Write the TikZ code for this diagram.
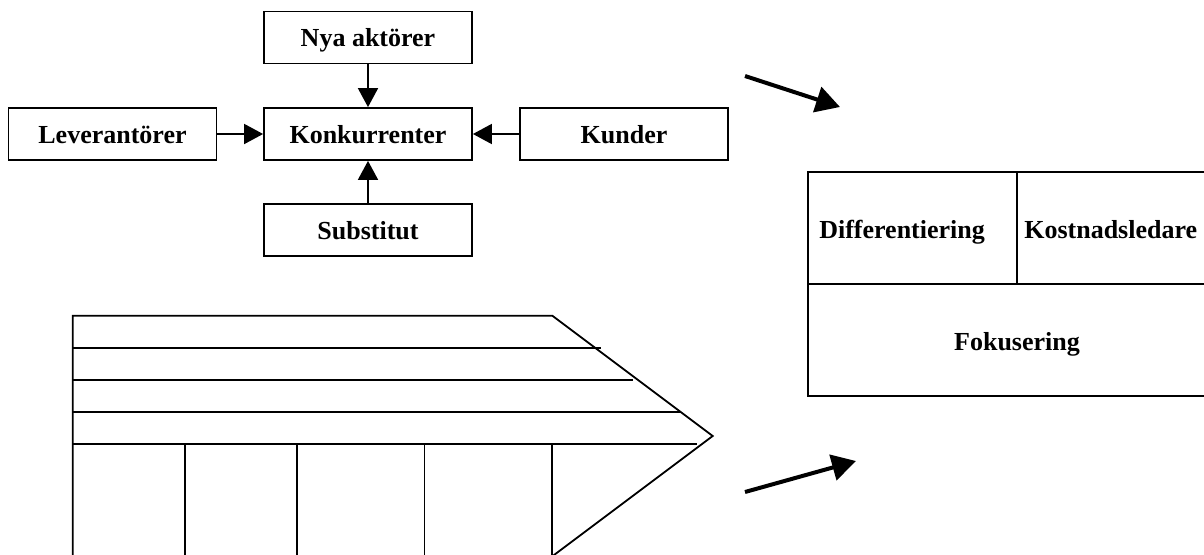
\documentclass[tikz,border=0pt]{standalone}
\usepackage{fontspec}
\setmainfont{Liberation Serif}
\usetikzlibrary{arrows.meta}

\begin{document}
\begin{tikzpicture}[x=1pt,y=-1pt,
  label font/.style={font=\fontsize{26}{30}\selectfont\bfseries},
  forcebox/.style={draw, line width=1.8pt, minimum width=208pt, minimum height=52pt,
    inner sep=0pt, text height=18pt, text depth=0pt, label font},
  cell/.style={draw, line width=1.8pt, minimum height=112pt, inner sep=0pt,
    text height=20pt, text depth=0pt, label font},
  cell text/.style={label font, inner sep=0pt, anchor=base west, yshift=-10pt},
  link/.style={-{Triangle[length=19pt,width=20pt]}, line width=1.8pt},
  bigarrow/.style={-{Triangle[length=24pt,width=26pt]}, line width=4pt},
  chevron/.style={line width=1.8pt, line join=miter}]
\useasboundingbox (0,0) rectangle (1204,554);
\clip (0,0) rectangle (1204,554);

% Five forces
\node[forcebox] (nya)  at (368,37.5)  {Nya aktörer};
\node[forcebox] (konk) at (368,134)   {Konkurrenter};
\node[forcebox] (lev)  at (112.5,134) {Leverantörer};
\node[forcebox] (kund) at (624,134)   {Kunder};
\node[forcebox] (sub)  at (368,230)   {Substitut};

\draw[link] (nya)  -- (konk);
\draw[link] (lev)  -- (konk);
\draw[link] (kund) -- (konk);
\draw[link] (sub)  -- (konk);

% Generic strategies
\node[cell, minimum width=209pt,
  label={[cell text, xshift=12pt]west:Differentiering}] (diff) at (912.5,228) {};
\node[cell, minimum width=209pt,
  label={[cell text, xshift=8pt]west:Kostnadsledare}] (kost) at (1121.5,228) {};
\node[cell, minimum width=418pt] (fok) at (1017,340) {Fokusering};

% Arrows towards the strategies
\coordinate (upStart) at (745,76);
\coordinate (upEnd)   at (840,107);
\coordinate (loStart) at (745,492);
\coordinate (loEnd)   at (856,461);
\draw[bigarrow] (upStart) -- (upEnd);
\draw[bigarrow] (loStart) -- (loEnd);

% Value chain
\draw[chevron] (72.7,558) -- (72.7,315.7) -- (552.3,315.7) -- (712.7,436) -- (550,558);
\draw[chevron] (72.7,347.7) -- (601,347.7);
\draw[chevron] (72.7,380)   -- (633,380);
\draw[chevron] (72.7,412)   -- (680,412);
\draw[chevron] (72.7,444)   -- (696.7,444);
\foreach \vx in {184.7,296.7,424.5,552.3}
  \draw[chevron] (\vx,444) -- (\vx,558);
\end{tikzpicture}
\end{document}
